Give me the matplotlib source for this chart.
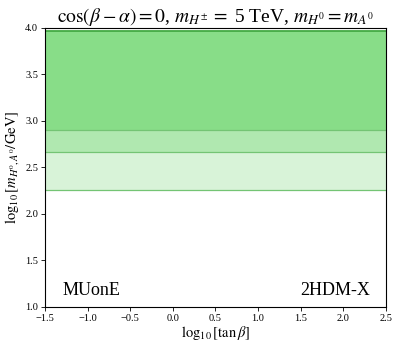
import matplotlib
matplotlib.use("Agg")
import matplotlib.pyplot as plt

plt.rcParams['font.family'] = ['Liberation Serif', 'DejaVu Serif']
plt.rcParams['mathtext.fontset'] = 'stix'

# excluded regions in log10[m/GeV], constant in tan(beta)
tanb_range = [-1.5, 2.5]
band_lower = [2.26, 2.66, 2.90]
band_upper = [2.66, 2.90, 3.965]
band_colors = ['#d8f3d8', '#b0e8b0', '#88dd88']

fig = plt.figure(figsize=(3.99, 3.5), dpi=100)
ax = fig.add_axes([0.113, 0.123, 0.854, 0.798])

for lo, hi, c in zip(band_lower, band_upper, band_colors):
    ax.fill_between(tanb_range, [lo, lo], [hi, hi], color=c, lw=0)
    ax.plot(tanb_range, [lo, lo], color='#74c474', lw=0.9)
ax.plot(tanb_range, [band_upper[-1]] * 2, color='#44aa44', lw=1.3)

ax.set_xlim(-1.5, 2.5)
ax.set_ylim(1.0, 4.0)
ax.set_xticks([-1.5, -1.0, -0.5, 0.0, 0.5, 1.0, 1.5, 2.0, 2.5])
ax.set_yticks([1.0, 1.5, 2.0, 2.5, 3.0, 3.5, 4.0])
ax.tick_params(labelsize=7.5, length=3, width=0.6, pad=2)
for s in ax.spines.values():
    s.set_linewidth(0.8)

ax.set_xlabel(r'$\log_{10}[\tan\beta]$', fontsize=10.5, labelpad=1)
ax.set_ylabel(r'$\log_{10}[m_{H^0,A^0}/\mathrm{GeV}]$', fontsize=10.5, labelpad=3)
ax.set_title(r'$\cos(\beta-\alpha)=0$, $m_{H^\pm}=$ 5 TeV, $m_{H^0}=m_{A^0}$',
             fontsize=14, pad=3)

ax.text(-1.3, 1.13, 'MUonE', fontsize=13)
ax.text(2.31, 1.13, '2HDM-X', fontsize=13, ha='right')

fig.savefig('out.png', dpi=100)
